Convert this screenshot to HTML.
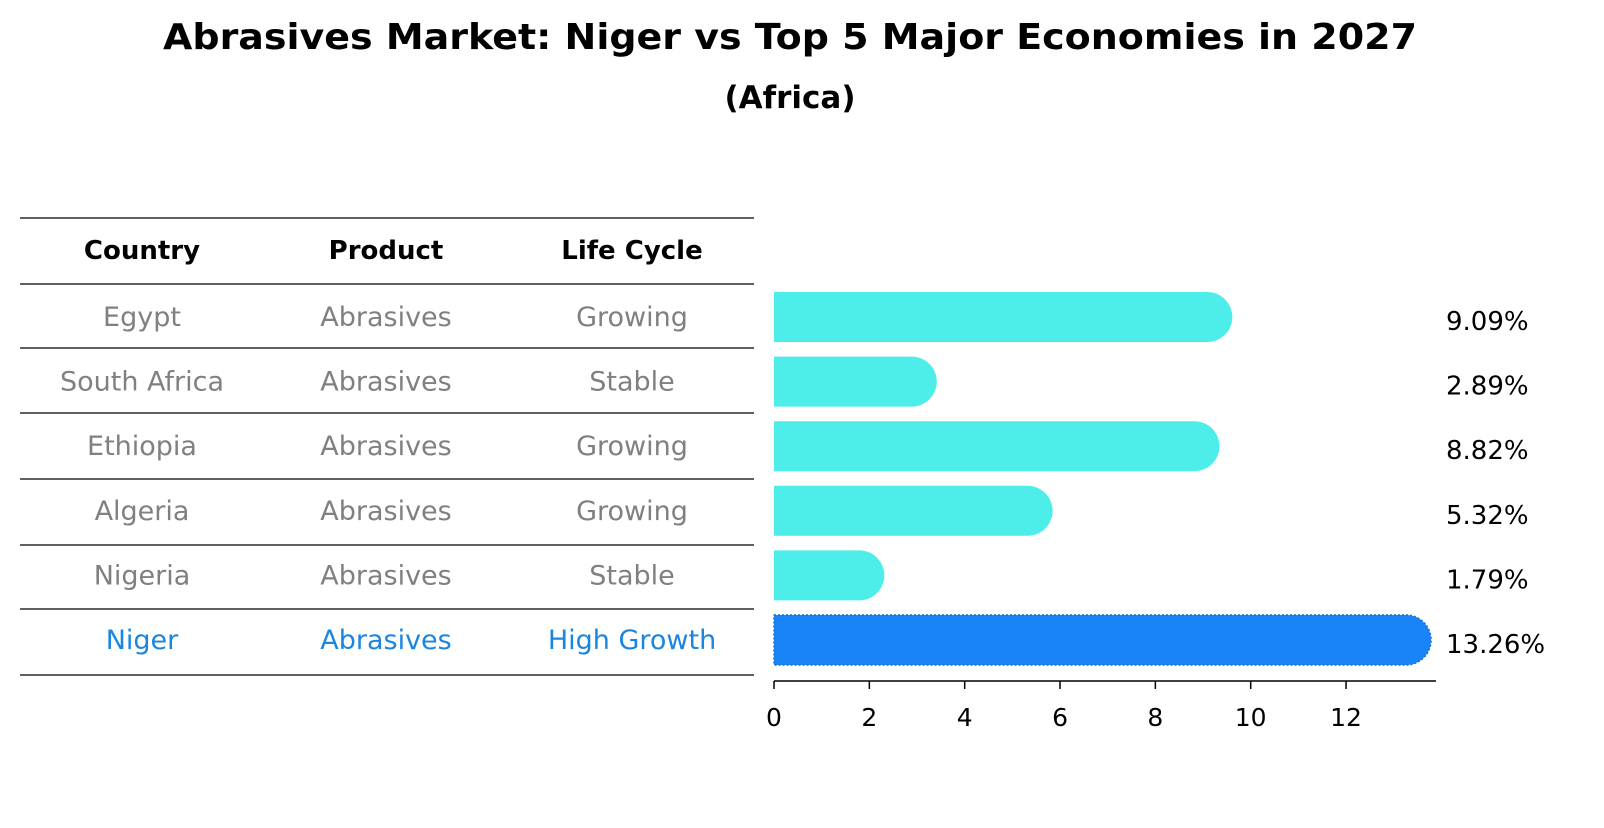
<!DOCTYPE html>
<html><head><meta charset="utf-8"><style>
body{margin:0;background:#fff;font-family:"Liberation Sans","DejaVu Sans",sans-serif}
</style></head><body>
<svg width="1604" height="823" xmlns="http://www.w3.org/2000/svg" font-family="DejaVu Sans, Liberation Sans, sans-serif">
<text x="790" y="49" text-anchor="middle" font-size="36" font-weight="bold" textLength="1254" lengthAdjust="spacingAndGlyphs">Abrasives Market: Niger vs Top 5 Major Economies in 2027</text>
<text x="790" y="108" text-anchor="middle" font-size="31" font-weight="bold">(Africa)</text>
<g id="table"></g>
<g id="bars"></g>
</svg>
<script>
const countries=["Egypt","South Africa","Ethiopia","Algeria","Nigeria","Niger"];
const products=["Abrasives","Abrasives","Abrasives","Abrasives","Abrasives","Abrasives"];
const lifeCycles=["Growing","Stable","Growing","Growing","Stable","High Growth"];
const values=[9.09,2.89,8.82,5.32,1.79,13.26];
const ticks=[0,2,4,6,8,10,12];
const NS="http://www.w3.org/2000/svg";
function mk(p,t,a,txt){const e=document.createElementNS(NS,t);for(const k in a)e.setAttribute(k,a[k]);if(txt!==undefined)e.textContent=txt;p.appendChild(e);return e;}
const tbl=document.getElementById('table');
const bars=document.getElementById('bars');
const lineY=[218,284,348,413,479,545,609,675];
lineY.forEach(y=>{const l=mk(tbl,'line',{x1:20,x2:754,y1:y,y2:y,stroke:'#000','stroke-width':1.2});

});
const colX=[142,386,632];
["Country","Product","Life Cycle"].forEach((h,i)=>{const t=mk(tbl,'text',{x:colX[i],y:259,'text-anchor':'middle','font-size':26,'font-weight':'bold'},h);

});
const x0=774,pxu=47.67,rowC=i=>317+i*64.6,bh=50;
countries.forEach((c,i)=>{
 const col=i===countries.length-1?'#1a86e0':'#808080';
 [c,products[i],lifeCycles[i]].forEach((v,j)=>{const t=mk(tbl,'text',{x:colX[j],y:rowC(i)+9,'text-anchor':'middle','font-size':27,fill:col},v);
 
 });
 const hi=i===countries.length-1;
 const fill=hi?'#1884f7':'#4deeea';
 const w=values[i]*pxu,y=rowC(i)-bh/2;
 const p=mk(bars,'path',{d:`M${x0},${y} H${x0+w} A${bh/2},${bh/2} 0 0 1 ${x0+w},${y+bh} H${x0} Z`,fill:fill,stroke:hi?'#1570d0':'none','stroke-width':hi?1.5:0,'stroke-dasharray':hi?'2 2':''});
 
 
 const t=mk(bars,'text',{x:1446,y:rowC(i)+13,'font-size':26},values[i].toFixed(2)+'%');
 
 
});
const ax=mk(bars,'line',{x1:x0,x2:1436,y1:681,y2:681,stroke:'#000','stroke-width':1.5});


ticks.forEach(v=>{const x=x0+v*pxu;
 const l=mk(bars,'line',{x1:x,x2:x,y1:681,y2:689,stroke:'#000','stroke-width':1.5});
 
 
 const t=mk(bars,'text',{x:x,y:726,'text-anchor':'middle','font-size':25},v);
 
 });
</script>
</body></html>
